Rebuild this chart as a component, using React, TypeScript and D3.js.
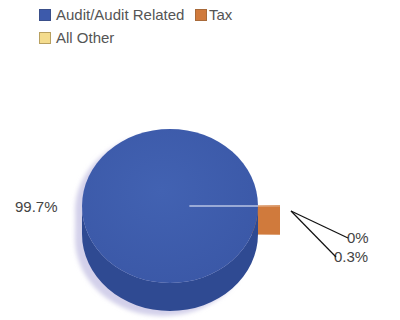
import React from "react";
import * as d3 from "d3";

const categories = ["Audit/Audit Related", "Tax", "All Other"];
const values = [99.7, 0.3, 0];
const labels = ["99.7%", "0.3%", "0%"];
const colors = ["#3d5aab", "#d07a3c", "#f4dc8e"];
const sideColors = ["#2f4a92", "#b0612c", "#d8be70"];

const W = 400, H = 320;
const cx = 170, cy = 206, rx = 88, ry = 77, depth = 28, explode = 22;

export default function App() {
  const taxFrac = values[1] / d3.sum(values);
  const start = Math.PI / 2 + taxFrac * Math.PI;
  const pie = d3.pie<number>().sort(null).startAngle(start).endAngle(start + 2 * Math.PI);
  const arcs = pie(values);
  const tax = arcs[1];
  const mid = (tax.startAngle + tax.endAngle) / 2;
  const ox = explode * Math.sin(mid);
  const oy = -explode * Math.cos(mid) * (ry / rx);
  const P = (a: number, r = 1, dx = 0, dy = 0) => [cx + dx + rx * r * Math.sin(a), cy + dy - ry * r * Math.cos(a)];

  const sidePath = (dx: number, dy: number) =>
    `M${cx + dx - rx},${cy + dy} L${cx + dx - rx},${cy + dy + depth} A${rx},${ry} 0 0 0 ${cx + dx + rx},${cy + dy + depth} L${cx + dx + rx},${cy + dy} A${rx},${ry} 0 0 1 ${cx + dx - rx},${cy + dy} Z`;

  const [tx0, ty0] = [cx + ox, cy + oy];
  const [tx1, ty1] = P(tax.endAngle, 1, ox, oy);
  const taxFace = `M${tx0},${ty0} L${tx1},${ty1} L${tx1},${ty1 + depth} L${tx0},${ty0 + depth} Z`;
  const [ta, tb] = [P(tax.startAngle, 1, ox, oy), P(tax.endAngle, 1, ox, oy)];
  const taxTop = `M${tx0},${ty0} L${ta[0]},${ta[1]} L${tb[0]},${tb[1]} Z`;

  const gapEnd = P(mid, 1);
  const gapStart = P(mid, 0.22);

  const vx = 291, vy = 211;
  const font = "'Liberation Sans', Arial, sans-serif";

  return (
    <svg width={W} height={H} style={{ position: "absolute", left: 0, top: 0, background: "#fff" }}>
      <defs>
        <filter id="blur" x="-20%" y="-20%" width="140%" height="140%">
          <feGaussianBlur stdDeviation="2" />
        </filter>
        <radialGradient id="topGrad" cx="0.45" cy="0.4" r="0.7">
          <stop offset="0" stopColor="#4262b2" />
          <stop offset="1" stopColor="#3a57a6" />
        </radialGradient>
      </defs>
      <g fontFamily={font} fontSize={15} fill="#555">
        <rect x={39.5} y={9.5} width={11} height={11} fill={colors[0]} stroke="#3a4f8a" />
        <text x={56} y={20}>{categories[0]}</text>
        <rect x={195.5} y={9.5} width={11} height={11} fill={colors[1]} stroke="#a86a3a" />
        <text x={209} y={20}>{categories[1]}</text>
        <rect x={39.5} y={32.5} width={11} height={11} fill={colors[2]} stroke="#b8a060" />
        <text x={56} y={43}>{categories[2]}</text>
      </g>
      <g filter="url(#blur)" fill="#d3d0ea">
        <path d={sidePath(-7, 5)} />
        <ellipse cx={cx - 7} cy={cy + 5} rx={rx} ry={ry} />
      </g>
      <path d={taxFace} fill={colors[1]} />
      <path d={taxTop} fill={colors[1]} />
      <path d={sidePath(0, 0)} fill={sideColors[0]} />
      <ellipse cx={cx} cy={cy} rx={rx} ry={ry} fill="url(#topGrad)" />
      <line x1={gapStart[0]} y1={gapStart[1]} x2={gapEnd[0]} y2={gapEnd[1]} stroke="#b9c4e4" strokeWidth={1.3} />
      <g fontFamily={font} fontSize={15} fill="#444">
        <text x={15} y={212}>{labels[0]}</text>
        <text x={347} y={243}>{labels[2]}</text>
        <text x={334} y={262}>{labels[1]}</text>
      </g>
      <g stroke="#111" strokeWidth={1.2} fill="none">
        <line x1={vx} y1={vy} x2={348} y2={238} />
        <line x1={vx} y1={vy} x2={336} y2={257} />
      </g>
    </svg>
  );
}
